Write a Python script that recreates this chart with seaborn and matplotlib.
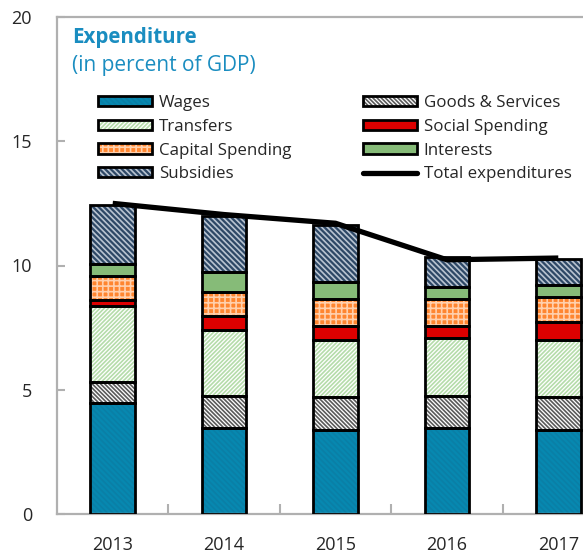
import numpy as np
import pandas as pd
import matplotlib
matplotlib.use("Agg")
import matplotlib.pyplot as plt
from matplotlib.patches import Patch
from matplotlib.lines import Line2D
import seaborn as sns

sns.set_theme(style="white")
plt.rcParams["font.family"] = ["Open Sans", "DejaVu Sans"]
plt.rcParams["hatch.linewidth"] = 1.2

# Data (percent of GDP)
years = ["2013", "2014", "2015", "2016", "2017"]
wages = [4.45, 3.48, 3.40, 3.47, 3.39]
goods_services = [0.87, 1.28, 1.29, 1.29, 1.30]
transfers = [3.04, 2.65, 2.31, 2.33, 2.30]
social_spending = [0.27, 0.55, 0.56, 0.47, 0.73]
capital_spending = [0.93, 0.96, 1.11, 1.09, 1.03]
interests = [0.49, 0.80, 0.65, 0.47, 0.48]
subsidies = [2.40, 2.28, 2.31, 1.21, 1.04]
total_exp = [12.50, 12.05, 11.70, 10.23, 10.30]

df = pd.DataFrame({
    "year": years,
    "Wages": wages,
    "Goods & Services": goods_services,
    "Transfers": transfers,
    "Social Spending": social_spending,
    "Capital Spending": capital_spending,
    "Interests": interests,
    "Subsidies": subsidies,
    "Total expenditures": total_exp,
})

# component -> (face, hatch colour, hatch)
styles = {
    "Wages": ("#0788b0", "#0a7fa6", "\\" * 6),
    "Goods & Services": ("white", "#5a5a5a", "\\" * 8),
    "Transfers": ("white", "#b5dcaa", "/" * 8),
    "Social Spending": ("#dd0000", "#dd0000", None),
    "Capital Spending": ("#ff8630", "#ffd0ad", "+" * 3),
    "Interests": ("#86bb78", "#86bb78", None),
    "Subsidies": ("#2e4866", "#b9c4d1", "\\" * 6),
}

fig = plt.figure(figsize=(5.83, 5.57), dpi=100)
ax = fig.add_axes([57 / 583, 43 / 557, 557 / 583, 497 / 557])

bottom = np.zeros(len(years))
for comp, (face, hcol, hatch) in styles.items():
    sns.barplot(data=df, x="year", y=comp, order=years, bottom=bottom,
                color=face, saturation=1, facecolor=face, edgecolor=hcol,
                hatch=hatch, linewidth=0, width=0.4, ax=ax, zorder=2)
    sns.barplot(data=df, x="year", y=comp, order=years, bottom=bottom,
                color="black", saturation=1, facecolor="none", edgecolor="black",
                linewidth=2, width=0.4, ax=ax, zorder=3)
    bottom = bottom + df[comp].values

sns.lineplot(x=np.arange(len(years)), y=df["Total expenditures"], color="black",
             linewidth=3.8, solid_capstyle="butt", ax=ax, zorder=4)

ax.set_xlim(-0.5, 4.5)
ax.set_ylim(0, 20)
ax.set_yticks([0, 5, 10, 15, 20])
ax.set_xticks(np.arange(len(years)))
ax.set_xticklabels(years)
ax.set_xticks(np.arange(len(years) - 1) + 0.5, minor=True)
ax.set_xlabel("")
ax.set_ylabel("")
ax.tick_params(axis="y", direction="in", length=6, width=1.5, color="#b0b0b0",
               labelsize=13, pad=18, left=True)
ax.tick_params(axis="x", which="major", length=0, labelsize=13, pad=16)
ax.tick_params(axis="x", which="minor", direction="in", length=7, width=1.5,
               color="#b0b0b0", bottom=True)
for s in ax.spines.values():
    s.set_color("#b0b0b0")
    s.set_linewidth(1.6)
ax.grid(False)

fig.text(72 / 583, 1 - 43 / 557, "Expenditure", color="#1a8dc0",
         fontsize=14.8, fontweight="bold", va="baseline")
fig.text(72 / 583, 1 - 71 / 557, "(in percent of GDP)", color="#1a8dc0",
         fontsize=15, va="baseline")

# legend
handles = []
labels = ["Wages", "Transfers", "Capital Spending", "Subsidies",
          "Goods & Services", "Social Spending", "Interests"]
for lab in labels:
    face, hcol, hatch = styles[lab]
    handles.append((Patch(facecolor=face, edgecolor=hcol, hatch=hatch, linewidth=0),
                    Patch(facecolor="none", edgecolor="black", linewidth=2)))
handles.append(Line2D([], [], color="black", linewidth=3.8))
labels.append("Total expenditures")
fig.legend(handles, labels, ncol=2, loc="upper left",
           bbox_to_anchor=(98 / 583, 1 - 95 / 557), frameon=False,
           fontsize=12.2, handlelength=3.2, handleheight=0.55,
           handletextpad=0.4, labelspacing=0.46, columnspacing=4.2,
           borderaxespad=0, borderpad=0)

fig.savefig("out.png", dpi=100)
